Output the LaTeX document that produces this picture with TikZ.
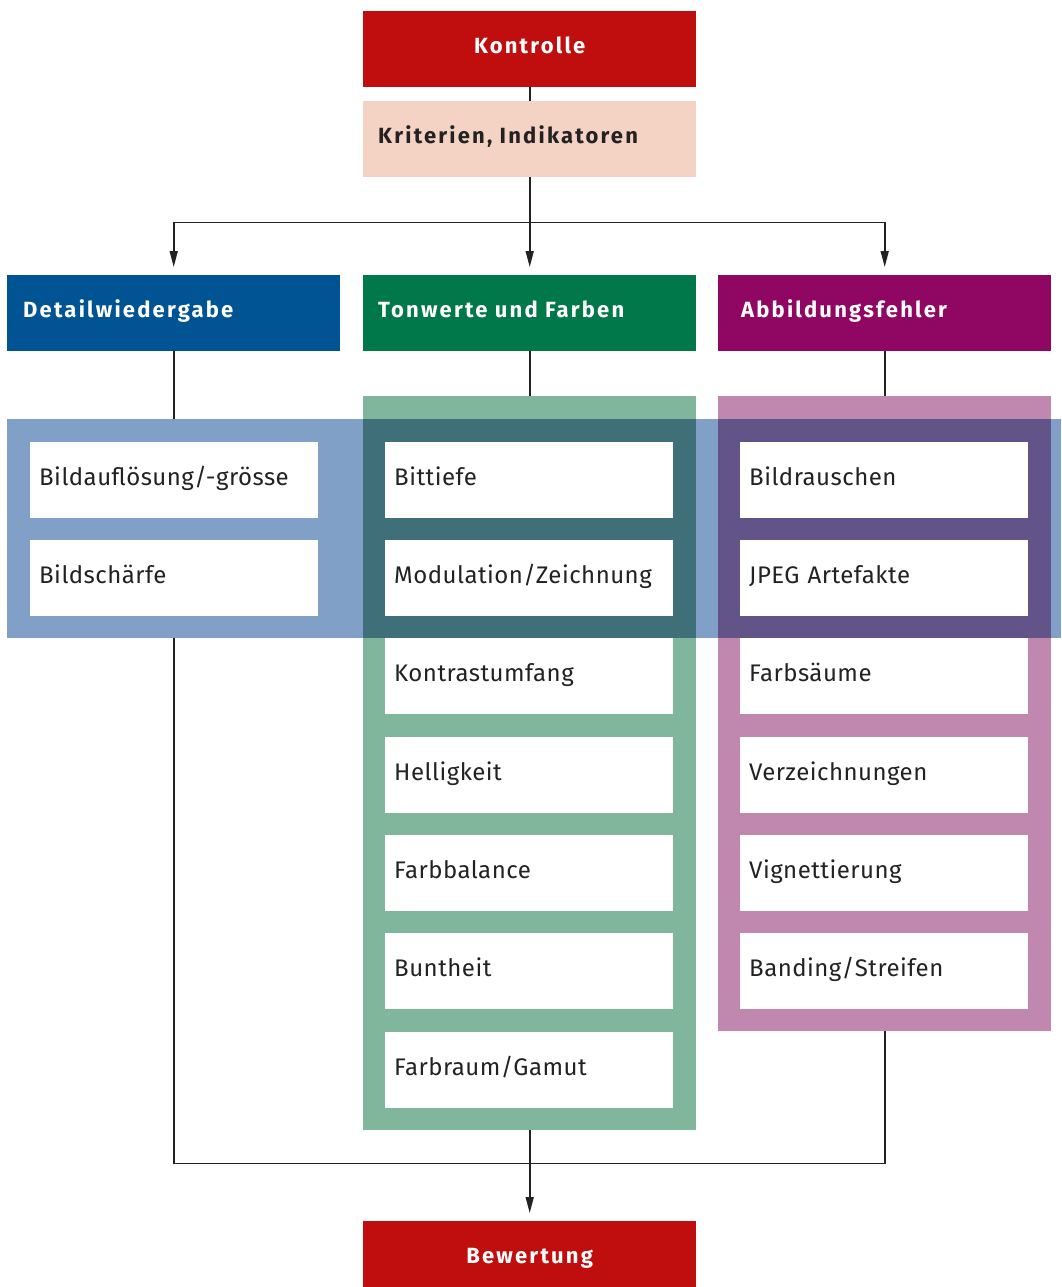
\documentclass[tikz,border=0pt]{standalone}
\usepackage{fontspec}
\setmainfont{Fira Sans}
\usetikzlibrary{arrows.meta}
\definecolor{kred}{RGB}{192,13,13}
\definecolor{kpeach}{RGB}{244,210,196}
\definecolor{kblue}{RGB}{0,84,148}
\definecolor{kgreen}{RGB}{0,120,74}
\definecolor{kpurple}{RGB}{143,7,98}
\definecolor{lblue}{RGB}{128,160,200}
\definecolor{lgreen}{RGB}{127,182,156}
\definecolor{lpurple}{RGB}{192,136,174}
\definecolor{dgreen}{RGB}{63,111,120}
\definecolor{dpurple}{RGB}{98,83,136}
\definecolor{ink}{RGB}{34,34,34}
\newfontfamily\hdrfont[LetterSpace=10]{Fira Sans}
\newfontfamily\itemfont[LetterSpace=2]{Fira Sans}
\begin{document}
\begin{tikzpicture}[x=1pt,y=-1pt,
  hdr/.style={rectangle, anchor=north west, minimum width=333pt, minimum height=76pt, inner xsep=15pt, inner ysep=0pt, text width=303pt, align=left, text height=16pt, text depth=7pt, font=\hdrfont\bfseries\fontsize{22}{24}\selectfont, text=white},
  ctr/.style={hdr, align=center},
  item/.style={rectangle, fill=white, anchor=north west, minimum height=76pt, inner xsep=9pt, inner ysep=0pt, text width=270pt, align=left, text height=17pt, text depth=6pt, font=\itemfont\fontsize{24}{26}\selectfont, text=ink},
  panel/.style={rectangle, anchor=north west, inner sep=0pt},
  conn/.style={draw=ink, line width=1.6pt},
  arr/.style={conn, -{Triangle[length=16pt,width=8pt]}}]
\useasboundingbox (0,0) rectangle (1061,1287);
% headers
\node[ctr, fill=kred] (kon) at (363,11) {Kontrolle};
\node[hdr, fill=kpeach, text=ink] (krit) at (363,101) {Kriterien, Indikatoren};
\node[hdr, fill=kblue, inner xsep=16pt, text width=301pt] (det) at (7,275) {Detailwiedergabe};
\node[hdr, fill=kgreen] (ton) at (363,275) {Tonwerte und Farben};
\node[hdr, fill=kpurple, inner xsep=23pt, text width=287pt] (abb) at (718,275) {Abbildungsfehler};
\node[ctr, fill=kred] (bew) at (363,1221) {Bewertung};
% panels
\node[panel, fill=lblue, minimum width=1054pt, minimum height=219pt] (band) at (7,419) {};
\node[panel, fill=lgreen, minimum width=333pt, minimum height=734pt] (gpan) at (363,396) {};
\node[panel, fill=lpurple, minimum width=333pt, minimum height=635pt] (ppan) at (718,396) {};
\node[panel, fill=dgreen, minimum width=333pt, minimum height=219pt] (gov) at (363,419) {};
\node[panel, fill=dpurple, minimum width=333pt, minimum height=219pt] (pov) at (718,419) {};
% items left
\node[item] (l1) at (30,442) {Bildauflösung/-grösse};
\node[item] (l2) at (30,540) {Bildschärfe};
% items middle
\node[item] (m1) at (385,442) {Bittiefe};
\node[item] (m2) at (385,540) {Modulation/Zeichnung};
\node[item] (m3) at (385,638) {Kontrastumfang};
\node[item] (m4) at (385,737) {Helligkeit};
\node[item] (m5) at (385,835) {Farbbalance};
\node[item] (m6) at (385,933) {Buntheit};
\node[item] (m7) at (385,1032) {Farbraum/Gamut};
% items right
\node[item] (r1) at (740,442) {Bildrauschen};
\node[item] (r2) at (740,540) {JPEG Artefakte};
\node[item] (r3) at (740,638) {Farbsäume};
\node[item] (r4) at (740,737) {Verzeichnungen};
\node[item] (r5) at (740,835) {Vignettierung};
\node[item] (r6) at (740,933) {Banding/Streifen};
% connectors
\path (krit.south) ++(0,45) coordinate (j);
\path (gpan.south) ++(0,33) coordinate (b);
\draw[conn] (kon.south) -- (krit.north);
\draw[conn] (krit.south) -- (j);
\draw[arr] (j) -| ([yshift=8pt]det.north);
\draw[arr] (j) -| ([yshift=8pt]abb.north);
\draw[arr] (j) -- ([yshift=8pt]ton.north);
\draw[conn] (det.south) -- (det.south |- band.north);
\draw[conn] (ton.south) -- (gpan.north);
\draw[conn] (abb.south) -- (ppan.north);
\draw[conn] (det.south |- band.south) -- (det.south |- b) -| (ppan.south);
\draw[arr] (gpan.south) -- ([yshift=8pt]bew.north);
\end{tikzpicture}
\end{document}
